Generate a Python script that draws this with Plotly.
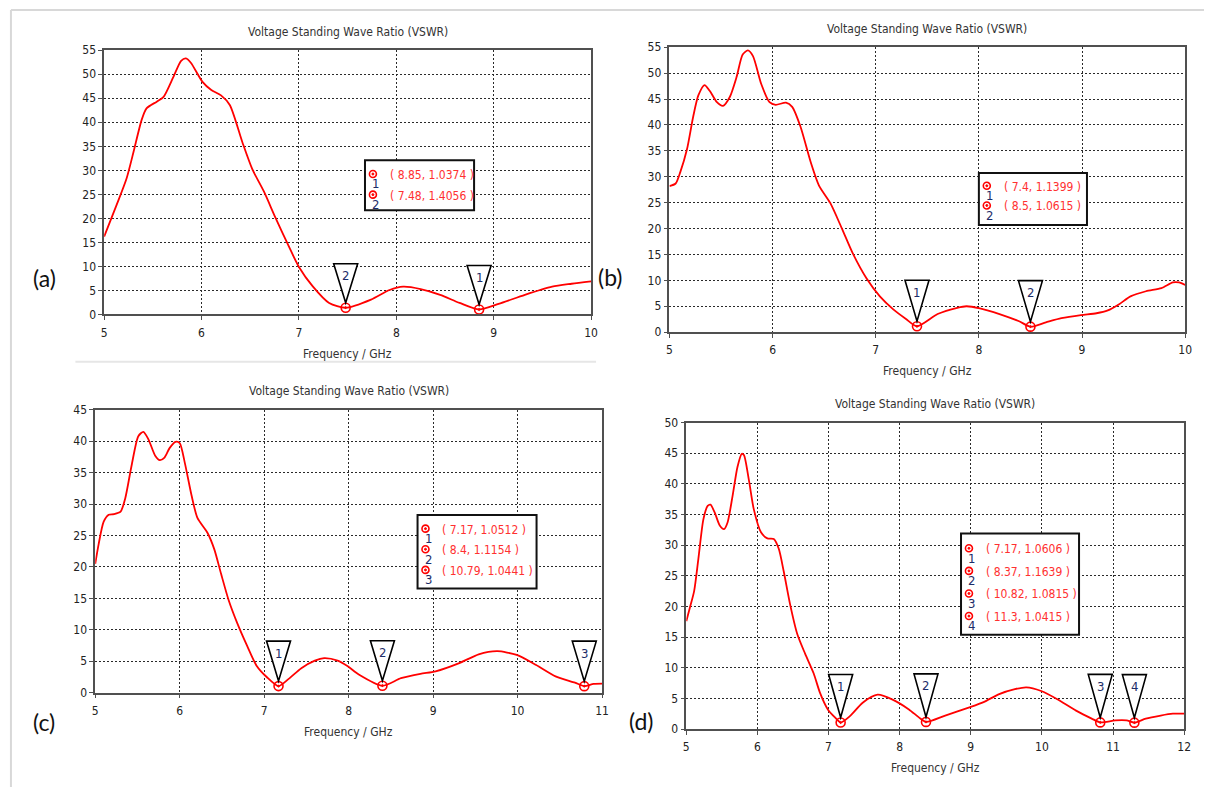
import plotly.graph_objects as go

W, H = 1211, 794


def px(x):
    return x / W


def py(y):
    return 1 - y / H


# ---------------- data: VSWR vs frequency (GHz) ----------------
a_freq = [5.0, 5.13, 5.23, 5.30, 5.385, 5.435, 5.54, 5.61, 5.71, 5.79, 5.84, 5.89, 6.01, 6.10,
          6.20, 6.29, 6.42, 6.52, 6.64, 6.76, 6.90, 7.0, 7.14, 7.31, 7.48, 7.74, 7.93, 8.07,
          8.25, 8.45, 8.65, 8.85, 9.05, 9.32, 9.60, 9.80, 10.0]
a_vswr = [16.2, 22.9, 28.3, 33.7, 40.5, 42.9, 44.3, 45.3, 49.4, 52.8, 53.3, 52.4, 48.4, 46.7,
          45.6, 43.6, 35.8, 30.3, 25.6, 20.1, 14.0, 9.9, 5.9, 2.4, 1.4056, 3.1, 5.1, 5.8,
          5.3, 4.1, 2.4, 1.0374, 2.2, 4.1, 5.8, 6.4, 6.9]
a_mk_freq = [8.85, 7.48]
a_mk_vswr = [1.0374, 1.4056]

b_freq = [5.0, 5.06, 5.105, 5.17, 5.23, 5.28, 5.34, 5.39, 5.46, 5.52, 5.585, 5.65, 5.71, 5.76,
          5.81, 5.89, 5.97, 6.03, 6.13, 6.19, 6.27, 6.37, 6.45, 6.56, 6.67, 6.78, 6.91, 7.04,
          7.17, 7.29, 7.4, 7.6, 7.79, 7.88, 8.01, 8.20, 8.39, 8.5, 8.65, 8.80, 8.99, 9.14,
          9.25, 9.36, 9.47, 9.62, 9.77, 9.88, 9.94, 10.0]
b_vswr = [28.2, 28.7, 30.9, 35.3, 41.6, 45.7, 47.7, 46.6, 44.4, 43.7, 45.4, 49.2, 53.6, 54.4,
          53.3, 47.9, 44.4, 43.9, 44.3, 43.5, 39.7, 32.8, 28.3, 24.9, 20.1, 15.1, 10.4, 6.9,
          4.4, 2.6, 1.1399, 3.5, 4.7, 5.0, 4.6, 3.5, 2.1, 1.0615, 1.9, 2.7, 3.3, 3.65,
          4.2, 5.4, 6.9, 7.9, 8.5, 9.6, 9.6, 9.1]
b_mk_freq = [7.4, 8.5]
b_mk_vswr = [1.1399, 1.0615]

c_freq = [5.0, 5.04, 5.10, 5.16, 5.22, 5.30, 5.355, 5.43, 5.51, 5.57, 5.63, 5.71, 5.765, 5.82,
          5.88, 5.95, 6.0, 6.06, 6.14, 6.21, 6.33, 6.41, 6.49, 6.58, 6.68, 6.80, 6.91, 7.03,
          7.17, 7.29, 7.44, 7.60, 7.71, 7.87, 7.99, 8.12, 8.4, 8.62, 8.85, 9.03, 9.31, 9.54,
          9.76, 9.99, 10.22, 10.45, 10.68, 10.79, 10.9, 11.0]
c_vswr = [20.5, 23.6, 27.2, 28.3, 28.4, 28.8, 30.9, 36.1, 40.8, 41.5, 40.3, 37.7, 37.0, 37.4,
          38.9, 39.9, 39.7, 36.6, 31.4, 27.8, 25.4, 22.8, 18.9, 14.7, 11.1, 7.4, 4.3, 2.5,
          1.0512, 2.2, 3.9, 5.1, 5.5, 5.1, 4.2, 2.9, 1.1154, 2.3, 3.0, 3.4, 4.7, 6.1,
          6.6, 6.0, 4.4, 2.6, 1.6, 1.0441, 1.4, 1.45]
c_mk_freq = [7.17, 8.4, 10.79]
c_mk_vswr = [1.0512, 1.1154, 1.0441]

d_freq = [5.0, 5.05, 5.11, 5.17, 5.24, 5.30, 5.34, 5.40, 5.47, 5.53, 5.58, 5.65, 5.72, 5.78,
          5.81, 5.88, 5.95, 6.05, 6.14, 6.23, 6.30, 6.37, 6.46, 6.56, 6.67, 6.79, 6.88, 6.99,
          7.09, 7.17, 7.30, 7.48, 7.69, 7.90, 8.13, 8.27, 8.37, 8.64, 8.97, 9.18, 9.40, 9.62,
          9.78, 9.99, 10.21, 10.48, 10.70, 10.82, 11.03, 11.19, 11.3, 11.46, 11.67, 11.84, 12.0]
d_vswr = [17.6, 19.8, 22.5, 27.8, 34.2, 36.4, 36.6, 35.3, 33.2, 32.6, 33.7, 38.0, 42.8, 44.9,
          44.7, 40.6, 35.8, 32.1, 31.1, 31.0, 29.4, 25.7, 20.3, 15.5, 12.3, 9.1, 5.9, 3.2,
          1.9, 1.0606, 2.1, 4.3, 5.6, 4.8, 3.2, 1.9, 1.1639, 2.2, 3.5, 4.4, 5.7, 6.5,
          6.8, 6.2, 4.9, 3.0, 1.7, 1.0815, 1.4, 1.4, 1.0415, 1.7, 2.2, 2.5, 2.5]
d_mk_freq = [7.17, 8.37, 10.82, 11.3]
d_mk_vswr = [1.0606, 1.1639, 1.0815, 1.0415]

panel_titles = ["Voltage Standing Wave Ratio (VSWR)"] * 4
x_title = "Frequency / GHz"
panel_tags = ["(a)", "(b)", "(c)", "(d)"]

# ---------------- layout of the four panels (pixels) ----------------
panels = [
    dict(freq=a_freq, vswr=a_vswr, mf=a_mk_freq, mv=a_mk_vswr,
         box=(102, 593, 44, 313), xr=(5, 10), yr=(0, 55),
         tag=(42, 276), leg=(365, 156, 110, 51, 15, 21), tri=44),
    dict(freq=b_freq, vswr=b_vswr, mf=b_mk_freq, mv=b_mk_vswr,
         box=(672, 1192, 41, 331), xr=(5, 10), yr=(0, 55),
         tag=(613, 275), leg=(984, 169, 109, 53, 14, 20), tri=46),
    dict(freq=c_freq, vswr=c_vswr, mf=c_mk_freq, mv=c_mk_vswr,
         box=(93, 604, 410, 698), xr=(5, 11), yr=(0, 45),
         tag=(41, 728), leg=(418, 517, 120, 75, 15, 21), tri=45),
    dict(freq=d_freq, vswr=d_vswr, mf=d_mk_freq, mv=d_mk_vswr,
         box=(689, 1191, 423, 735), xr=(5, 12), yr=(0, 50),
         tag=(644, 727), leg=(966, 536, 119, 103, 16, 23), tri=48),
]

NARROW = "Liberation Sans Narrow, DejaVu Sans Condensed, Arial Narrow, sans-serif"
RED = "#ff0000"
TXT_RED = "#ff3030"
NUM_COL = "#1c2c68"


def paper_text(x, y, text, size, color, family=NARROW, xanchor="center"):
    return dict(x=px(x), y=py(y), xref="paper", yref="paper", text=text,
                xanchor=xanchor, yanchor="middle", showarrow=False,
                font=dict(family=family, size=size, color=color))


fig = go.Figure()
shapes = []
annotations = []
layout_axes = {}

for i, p in enumerate(panels):
    n = "" if i == 0 else str(i + 1)
    xa, ya = "x" + n, "y" + n
    l, r, t, b = p["box"]

    # curve
    fig.add_trace(go.Scatter(
        x=p["freq"], y=p["vswr"], xaxis=xa, yaxis=ya, mode="lines",
        line=dict(color=RED, width=1.8, shape="spline", smoothing=0.7),
        hoverinfo="skip", showlegend=False))
    # marker points
    fig.add_trace(go.Scatter(
        x=p["mf"], y=p["mv"], xaxis=xa, yaxis=ya, mode="markers",
        marker=dict(symbol="circle-open-dot", size=9, color=RED,
                    line=dict(color=RED, width=1.6)),
        hoverinfo="skip", showlegend=False))

    axis_common = dict(
        showline=True, mirror=True, linecolor="#505050", linewidth=1.5,
        ticks="outside", ticklen=4, tickcolor="#505050", tickwidth=1,
        showgrid=True, gridcolor="#2a2a2a", gridwidth=1, griddash="2px,2px",
        zeroline=False, tickfont=dict(family=NARROW, size=12, color="#222"),
        fixedrange=True,
    )
    layout_axes["xaxis" + n] = dict(
        axis_common, domain=[px(l), px(r)], range=list(p["xr"]), dtick=1,
        anchor=ya, ticklabelstandoff=2)
    layout_axes["yaxis" + n] = dict(
        axis_common, domain=[py(b), py(t)], range=list(p["yr"]), dtick=5,
        anchor=xa)

    cx = (l + r) / 2
    annotations.append(paper_text(cx, t - 19, panel_titles[i], 12, "#333"))
    annotations.append(paper_text(cx, b + 40, x_title, 12, "#333"))
    annotations.append(paper_text(p["tag"][0], p["tag"][1], panel_tags[i], 23, "#111",
                                  family="Lato, Open Sans, sans-serif"))

    # numbered triangle flags above each marker
    for k, (f, v) in enumerate(zip(p["mf"], p["mv"])):
        h = p["tri"]
        shapes.append(dict(
            type="path", xref=xa, yref=ya, xsizemode="pixel", ysizemode="pixel",
            xanchor=f, yanchor=v, path=f"M -12,{h} L 12,{h} L 0,5 Z",
            fillcolor="white", line=dict(color="black", width=1.6), layer="above"))
        annotations.append(dict(
            x=f, y=v, xref=xa, yref=ya, yshift=h - 12, text=str(k + 1),
            xanchor="center", yanchor="middle", showarrow=False,
            font=dict(family=NARROW, size=13, color=NUM_COL)))

    # marker readout box
    bl, bt, bw, bh, first, step = p["leg"]
    shapes.append(dict(
        type="rect", xref="paper", yref="paper",
        x0=px(bl), x1=px(bl + bw), y0=py(bt + bh), y1=py(bt),
        fillcolor="white", line=dict(color="#111", width=2), layer="above"))
    for k, (f, v) in enumerate(zip(p["mf"], p["mv"])):
        ry = bt + first + k * step
        ix = bl + 8
        shapes.append(dict(
            type="circle", xref="paper", yref="paper", xsizemode="pixel",
            ysizemode="pixel", xanchor=px(ix), yanchor=py(ry - 1),
            x0=-3.5, x1=3.5, y0=-3.5, y1=3.5,
            line=dict(color=RED, width=1.6), fillcolor="white", layer="above"))
        shapes.append(dict(
            type="circle", xref="paper", yref="paper", xsizemode="pixel",
            ysizemode="pixel", xanchor=px(ix), yanchor=py(ry - 1),
            x0=-1, x1=1, y0=-1, y1=1,
            line=dict(color=RED, width=1), fillcolor=RED, layer="above"))
        annotations.append(paper_text(ix + 3, ry + 9, str(k + 1), 13, NUM_COL))
        annotations.append(paper_text(bl + 23, ry, f"( {f:g}, {v:.4f} )", 12, TXT_RED,
                                      xanchor="left"))

# page frame and separator
shapes.append(dict(type="line", xref="paper", yref="paper", x0=px(8), x1=1,
                   y0=py(3), y1=py(3), line=dict(color="#d8d8d8", width=2)))
shapes.append(dict(type="line", xref="paper", yref="paper", x0=px(8), x1=px(8),
                   y0=py(3), y1=0, line=dict(color="#d8d8d8", width=2)))
shapes.append(dict(type="line", xref="paper", yref="paper", x0=px(73), x1=px(598),
                   y0=py(361), y1=py(361), line=dict(color="#e6e6e6", width=2)))

fig.update_layout(
    width=W, height=H, margin=dict(l=0, r=0, t=0, b=0),
    paper_bgcolor="white", plot_bgcolor="white",
    shapes=shapes, annotations=annotations, showlegend=False,
    **layout_axes,
)

fig.write_html("out.html", config=dict(displayModeBar=False))
